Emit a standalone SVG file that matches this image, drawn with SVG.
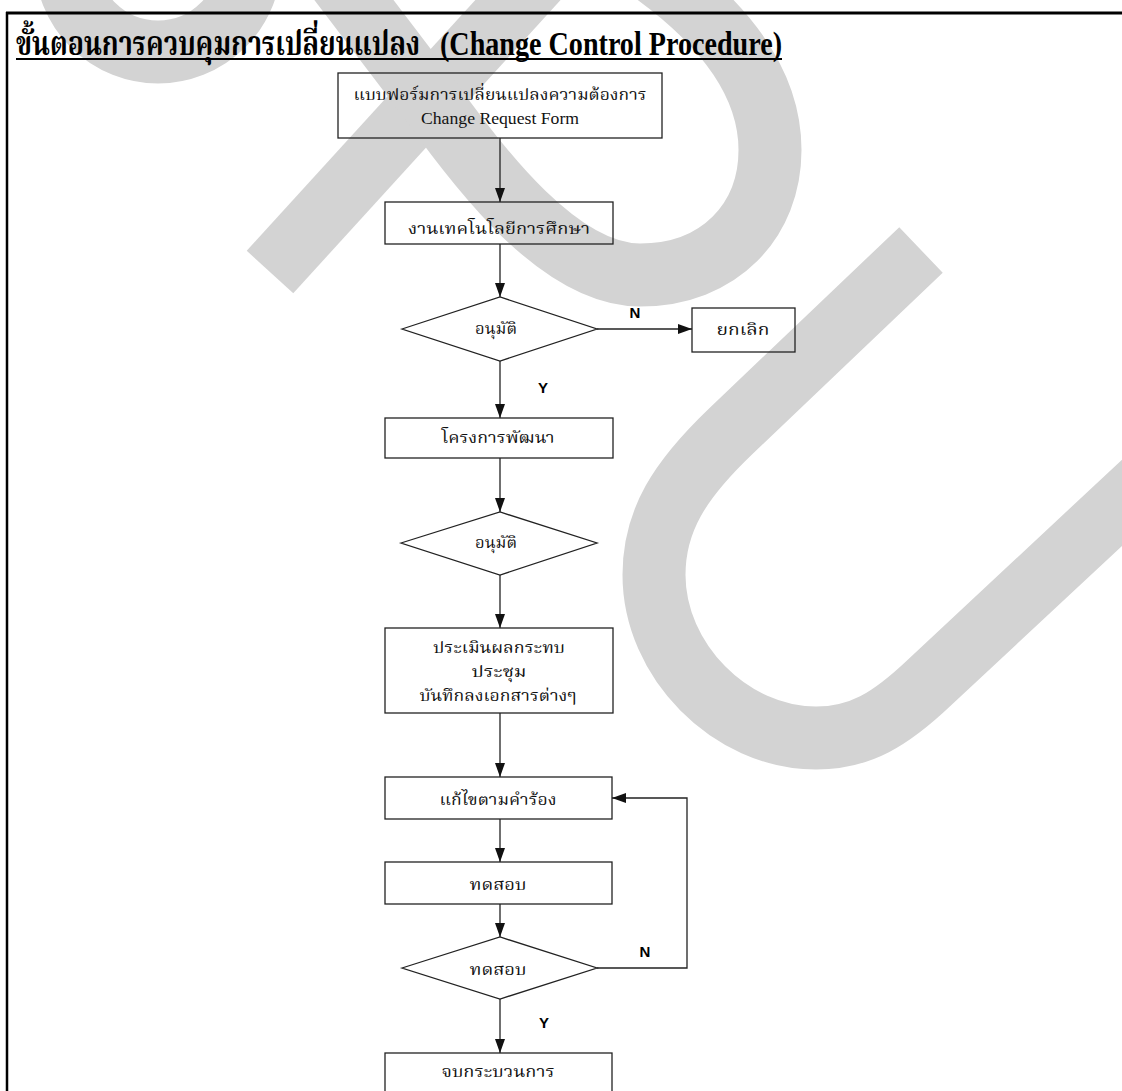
<svg xmlns="http://www.w3.org/2000/svg" width="1122" height="1091" viewBox="0 0 1122 1091">
  <defs>
    <style>
      .wm { fill: none; stroke: #d3d3d3; stroke-width: 63; stroke-linecap: butt; stroke-linejoin: round; }
      .frame { stroke: #000; fill: none; }
      .box { fill: none; stroke: #222; stroke-width: 1.3; }
      .edge { fill: none; stroke: #222; stroke-width: 1.3; }
      .th { font-family: "Liberation Serif", "Noto Serif Thai", "Noto Sans Thai", "Norasi", "Garuda", serif; font-size: 16px; fill: #111; text-anchor: middle; }
      .en { font-family: "Liberation Serif", serif; font-size: 16px; fill: #111; text-anchor: middle; }
      .yn { font-family: "Liberation Sans", Arial, sans-serif; font-weight: bold; font-size: 15px; fill: #000; text-anchor: middle; }
      .title { font-family: "Liberation Serif", "Noto Serif Thai", "Noto Sans Thai", serif; font-weight: bold; font-size: 27px; fill: #000; }
    </style>
    <marker id="arrow" viewBox="0 0 14 10" refX="14" refY="5" markerWidth="14" markerHeight="10" markerUnits="userSpaceOnUse" orient="auto">
      <path d="M0,0 L14,5 L0,10 Z" fill="#111"/>
    </marker>
  </defs>

  <rect width="1122" height="1091" fill="#fff"/>

  <!-- background watermark strokes -->
  <g id="watermark">
    <circle class="wm" cx="158" cy="-40" r="92" stroke-width="86"/>
    <path class="wm" d="M270,272 L600,-90"/>
    <path class="wm" d="M290,-84 L430,100 C480,170 560,275 640,275 C720,275 770,220 770,150 C770,80 720,20 650,-30"/>
    <path class="wm" d="M921,250 L730,432 C680,480 654,520 654,575 C654,660 730,738 816,738 C860,738 890,720 930,682 L1200,430"/>
  </g>

  <!-- page frame -->
  <g id="frame">
    <line class="frame" x1="6" y1="13" x2="1122" y2="13" stroke-width="3"/>
    <line class="frame" x1="7" y1="12" x2="7" y2="1091" stroke-width="2.5"/>
  </g>

  <!-- heading: condensed tall lettering, stretched vertically -->
  <g id="heading">
    <text class="title" transform="translate(16,55) scale(1,1.22)" x="0" y="0" textLength="404" lengthAdjust="spacingAndGlyphs">ขั้นตอนการควบคุมการเปลี่ยนแปลง</text>
    <text class="title" transform="translate(440,55) scale(1,1.22)" x="0" y="0" textLength="342" lengthAdjust="spacingAndGlyphs">(Change Control Procedure)</text>
    <line x1="16" y1="59" x2="782" y2="59" stroke="#000" stroke-width="2"/>
  </g>

  <!-- connectors -->
  <g id="connectors">
    <line class="edge" x1="500" y1="138" x2="500" y2="202" marker-end="url(#arrow)"/>
    <line class="edge" x1="500" y1="244" x2="500" y2="297" marker-end="url(#arrow)"/>
    <line class="edge" x1="597" y1="329" x2="692" y2="329" marker-end="url(#arrow)"/>
    <line class="edge" x1="500" y1="361" x2="500" y2="418" marker-end="url(#arrow)"/>
    <line class="edge" x1="500" y1="458" x2="500" y2="512" marker-end="url(#arrow)"/>
    <line class="edge" x1="500" y1="575" x2="500" y2="628" marker-end="url(#arrow)"/>
    <line class="edge" x1="500" y1="713" x2="500" y2="777" marker-end="url(#arrow)"/>
    <line class="edge" x1="500" y1="819" x2="500" y2="862" marker-end="url(#arrow)"/>
    <line class="edge" x1="500" y1="904" x2="500" y2="937" marker-end="url(#arrow)"/>
    <polyline class="edge" points="597,968 687,968 687,798 612,798" marker-end="url(#arrow)"/>
    <line class="edge" x1="500" y1="999" x2="500" y2="1053" marker-end="url(#arrow)"/>
    <text class="yn" x="635" y="318">N</text>
    <text class="yn" x="543" y="393">Y</text>
    <text class="yn" x="645" y="957">N</text>
    <text class="yn" x="544" y="1028">Y</text>
  </g>

  <!-- nodes -->
  <g id="request-form">
    <rect class="box" x="338" y="73" width="324" height="65"/>
    <text class="th" x="500" y="100" textLength="293" lengthAdjust="spacingAndGlyphs">แบบฟอร์มการเปลี่ยนแปลงความต้องการ</text>
    <text class="en" x="500" y="124" textLength="158" lengthAdjust="spacingAndGlyphs">Change Request Form</text>
  </g>
  <g id="edu-tech">
    <rect class="box" x="385" y="202" width="228" height="42"/>
    <text class="th" x="499" y="234" textLength="182" lengthAdjust="spacingAndGlyphs">งานเทคโนโลยีการศึกษา</text>
  </g>
  <g id="approve-1">
    <polygon class="box" points="402,329 500,297 597,329 500,361"/>
    <text class="th" x="496" y="334" textLength="42" lengthAdjust="spacingAndGlyphs">อนุมัติ</text>
  </g>
  <g id="cancel">
    <rect class="box" x="692" y="308" width="103" height="44"/>
    <text class="th" x="743" y="335" textLength="53" lengthAdjust="spacingAndGlyphs">ยกเลิก</text>
  </g>
  <g id="dev-project">
    <rect class="box" x="385" y="418" width="228" height="40"/>
    <text class="th" x="498" y="443" textLength="113" lengthAdjust="spacingAndGlyphs">โครงการพัฒนา</text>
  </g>
  <g id="approve-2">
    <polygon class="box" points="401,543 500,512 597,543 500,575"/>
    <text class="th" x="496" y="548" textLength="42" lengthAdjust="spacingAndGlyphs">อนุมัติ</text>
  </g>
  <g id="assess">
    <rect class="box" x="385" y="628" width="228" height="85"/>
    <text class="th" x="499" y="653" textLength="132" lengthAdjust="spacingAndGlyphs">ประเมินผลกระทบ</text>
    <text class="th" x="499" y="677" textLength="55" lengthAdjust="spacingAndGlyphs">ประชุม</text>
    <text class="th" x="498" y="701" textLength="157" lengthAdjust="spacingAndGlyphs">บันทึกลงเอกสารต่างๆ</text>
  </g>
  <g id="fix">
    <rect class="box" x="385" y="777" width="227" height="42"/>
    <text class="th" x="498" y="805" textLength="117" lengthAdjust="spacingAndGlyphs">แก้ไขตามคำร้อง</text>
  </g>
  <g id="test">
    <rect class="box" x="385" y="862" width="227" height="42"/>
    <text class="th" x="498" y="890" textLength="57" lengthAdjust="spacingAndGlyphs">ทดสอบ</text>
  </g>
  <g id="test-check">
    <polygon class="box" points="402,968 500,937 597,968 500,999"/>
    <text class="th" x="498" y="975" textLength="57" lengthAdjust="spacingAndGlyphs">ทดสอบ</text>
  </g>
  <g id="finish">
    <rect class="box" x="385" y="1053" width="227" height="50"/>
    <text class="th" x="498" y="1077" textLength="113" lengthAdjust="spacingAndGlyphs">จบกระบวนการ</text>
  </g>
</svg>
